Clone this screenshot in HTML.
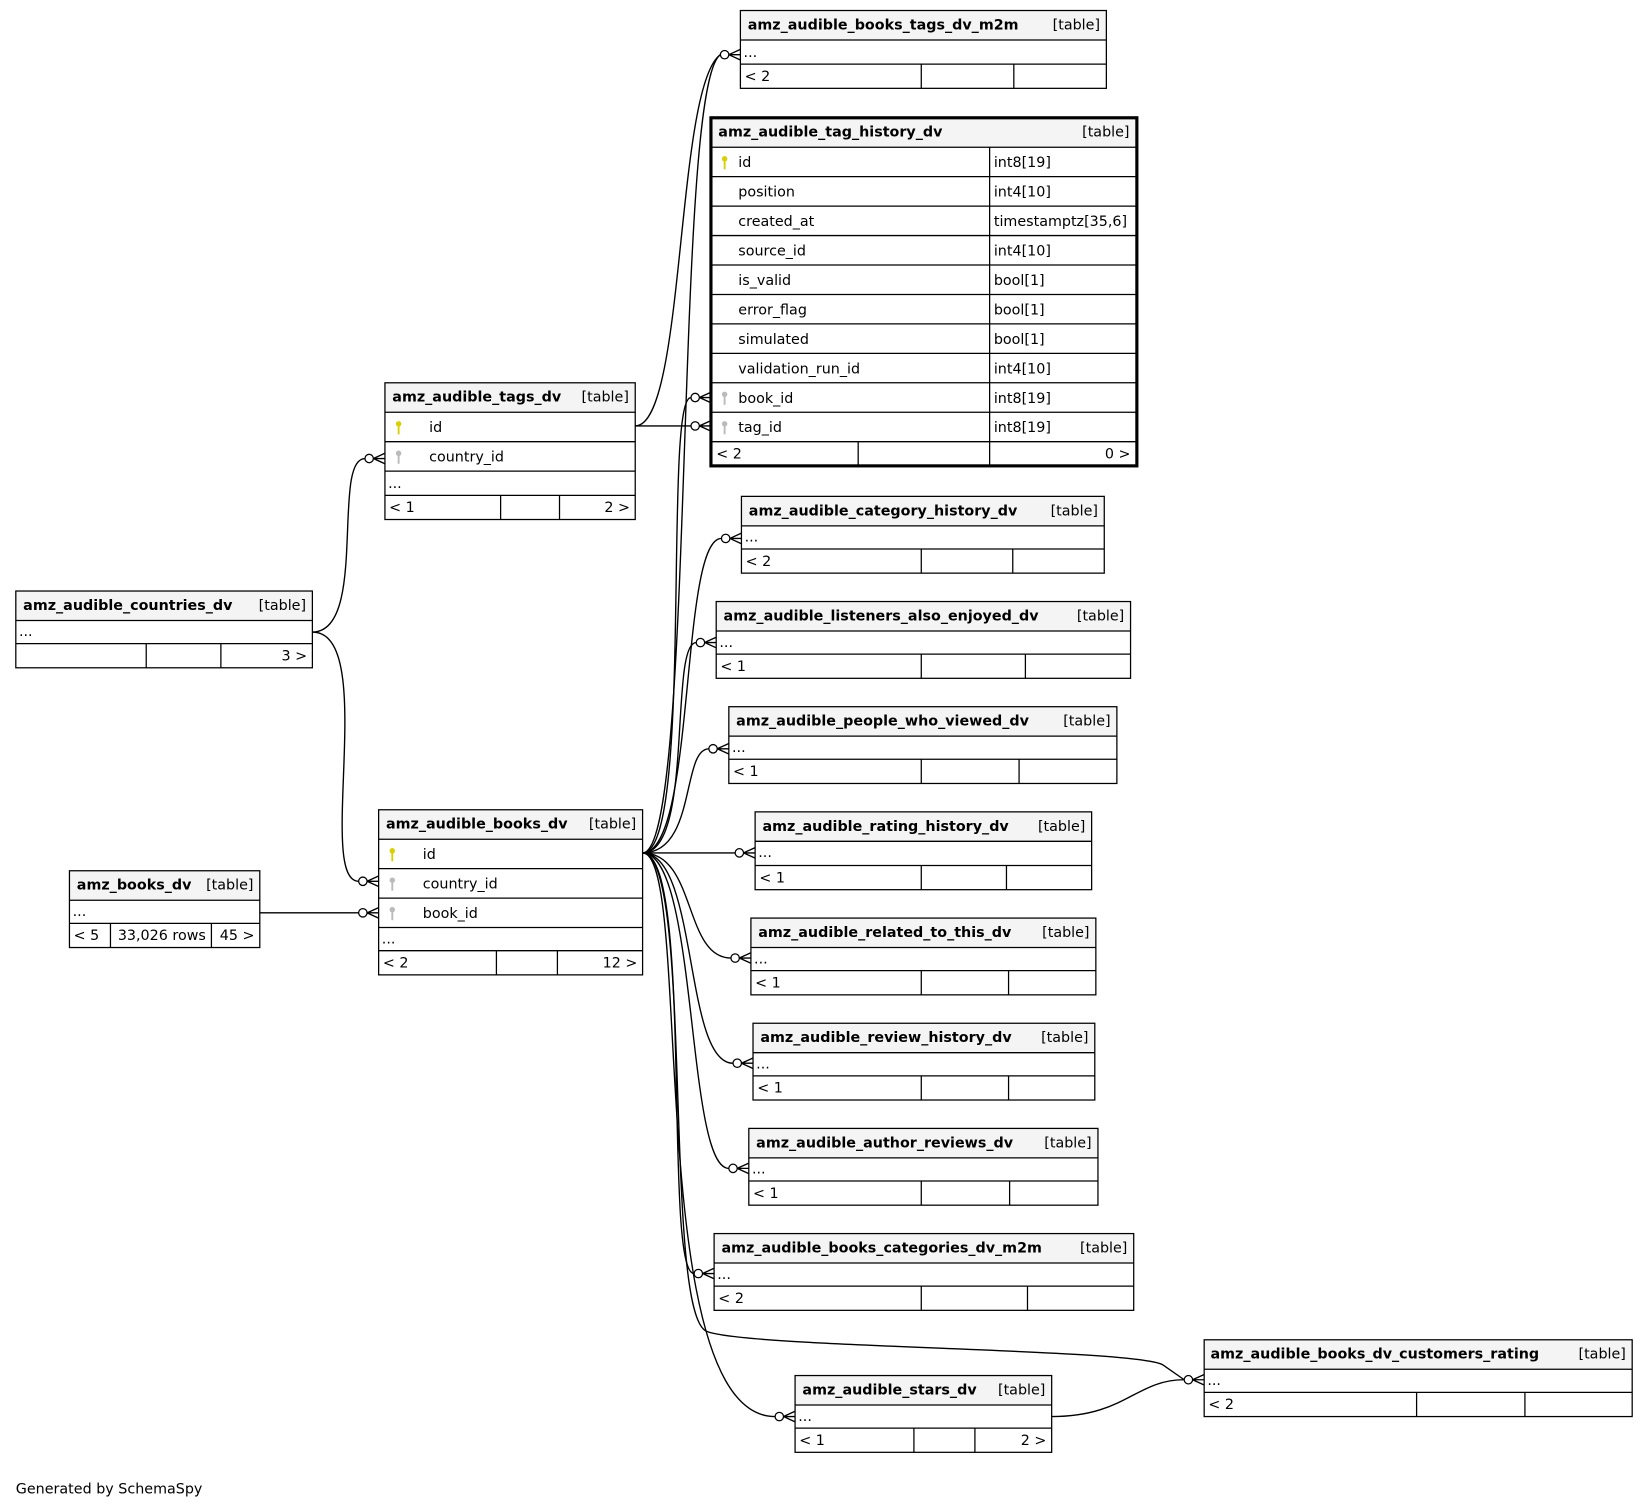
<!DOCTYPE html>
<html><head><meta charset="utf-8"><style>
html,body{margin:0;padding:0;background:#fff;}
svg{display:block}
text{font-family:"DejaVu Sans","Liberation Sans",sans-serif;font-size:13.6px;fill:#000}
.b{font-weight:bold}
.t{fill:none;stroke:#000;stroke-width:1.2}
.e{fill:none;stroke:#000;stroke-width:1.3}
.c{fill:#fff;stroke:#000;stroke-width:1.2}
</style></head><body>
<svg width="1648" height="1507" viewBox="0 0 1567 1433" xmlns="http://www.w3.org/2000/svg">
<defs>
<g id="crow"><circle class="c" cx="-15" cy="0" r="4"/><path class="e" d="M-11,0 L0,-5 M-11,0 L0,0 M-11,0 L0,5"/></g>
<g id="pk"><circle cx="0" cy="-4" r="2.6" fill="#d8d000"/><rect x="-0.9" y="-3" width="1.8" height="9" fill="#d8d000"/></g>
<g id="fk"><circle cx="0" cy="-4" r="2.6" fill="#bbb"/><rect x="-0.9" y="-3" width="1.8" height="9" fill="#bbb"/></g>
</defs>

<g class="e">
<path d="M611,811 C662,811 640,82 685,52"/>
<path d="M604,405 C652,405 642,82 685,52"/>
<path d="M611,811 C660,811 630,378 657,378"/>
<path d="M604,405 L657,405"/>
<path d="M611,811 C662,811 646,512 686,512"/>
<path d="M611,811 C660,811 636,611 662,611"/>
<path d="M611,811 C662,811 648,712 674,712"/>
<path d="M611,811 L699,811"/>
<path d="M611,811 C662,811 650,911 695,911"/>
<path d="M611,811 C664,811 650,1011 697,1011"/>
<path d="M611,811 C664,811 652,1111 693,1111"/>
<path d="M611,811 C660,811 630,1211 660,1211"/>
<path d="M611,811 C660,811 610,1347 737,1347"/>
<path d="M611,811 C660,811 630,1250 672,1266 C712,1282 1080,1282 1106,1298 L1126,1312"/>
<path d="M1000,1347 C1070,1347 1080,1312 1126,1312"/>
<path d="M297,601 C350,601 315,436 347,436"/>
<path d="M297,601 C360,601 300,838 341,838"/>
<path d="M247,868 L341,868"/>
</g>
<use href="#crow" x="704" y="52"/>
<use href="#crow" x="676" y="378"/>
<use href="#crow" x="676" y="405"/>
<use href="#crow" x="705" y="512"/>
<use href="#crow" x="681" y="611"/>
<use href="#crow" x="693" y="712"/>
<use href="#crow" x="718" y="811"/>
<use href="#crow" x="714" y="911"/>
<use href="#crow" x="716" y="1011"/>
<use href="#crow" x="712" y="1111"/>
<use href="#crow" x="679" y="1211"/>
<use href="#crow" x="756" y="1347"/>
<use href="#crow" x="1145" y="1312"/>
<use href="#crow" x="366" y="436"/>
<use href="#crow" x="360" y="838"/>
<use href="#crow" x="360" y="868"/>

<rect x="704" y="10" width="348" height="28" fill="#f4f4f4"/>
<rect class="t" x="704" y="10" width="348" height="74"/>
<path class="t" d="M704,38H1052M704,61H1052M876,61V84M964,61V84"/>
<text class="b" x="711" y="28">amz_audible_books_tags_dv_m2m</text><text x="1046" y="28" text-anchor="end">[table]</text>
<text x="707" y="54">...</text><text x="708" y="77">&lt; 2</text>

<rect x="676" y="112" width="405" height="28" fill="#f4f4f4"/>
<path class="t" d="M676,140H1081M676,168H1081M676,196H1081M676,224H1081M676,252H1081M676,280H1081M676,308H1081M676,336H1081M676,364H1081M676,392H1081M676,420H1081M941,140V420M816,420V443M941,420V443"/>
<rect x="676" y="112" width="405" height="331" fill="none" stroke="#000" stroke-width="3"/>
<text class="b" x="683" y="130">amz_audible_tag_history_dv</text><text x="1074" y="130" text-anchor="end">[table]</text>
<use href="#pk" x="689" y="155"/>
<use href="#fk" x="689" y="379"/>
<use href="#fk" x="689" y="407"/>
<text x="702" y="159">id</text><text x="945" y="159">int8[19]</text>
<text x="702" y="187">position</text><text x="945" y="187">int4[10]</text>
<text x="702" y="215">created_at</text><text x="945" y="215">timestamptz[35,6]</text>
<text x="702" y="243">source_id</text><text x="945" y="243">int4[10]</text>
<text x="702" y="271">is_valid</text><text x="945" y="271">bool[1]</text>
<text x="702" y="299">error_flag</text><text x="945" y="299">bool[1]</text>
<text x="702" y="327">simulated</text><text x="945" y="327">bool[1]</text>
<text x="702" y="355">validation_run_id</text><text x="945" y="355">int4[10]</text>
<text x="702" y="383">book_id</text><text x="945" y="383">int8[19]</text>
<text x="702" y="411">tag_id</text><text x="945" y="411">int8[19]</text>
<text x="681" y="436">&lt; 2</text><text x="1075" y="436" text-anchor="end">0 &gt;</text>

<rect x="366" y="364" width="238" height="28" fill="#f4f4f4"/>
<rect class="t" x="366" y="364" width="238" height="130"/>
<path class="t" d="M366,392H604M366,420H604M366,448H604M366,471H604M476,471V494M532,471V494"/>
<text class="b" x="373" y="382">amz_audible_tags_dv</text><text x="598" y="382" text-anchor="end">[table]</text>
<use href="#pk" x="379" y="407"/><use href="#fk" x="379" y="435"/>
<text x="408" y="411">id</text><text x="408" y="439">country_id</text>
<text x="369" y="464">...</text><text x="370" y="487">&lt; 1</text><text x="599" y="487" text-anchor="end">2 &gt;</text>

<g>
<rect x="705" y="472" width="345" height="28" fill="#f4f4f4"/>
<rect class="t" x="705" y="472" width="345" height="73"/>
<path class="t" d="M705,500H1050M705,522H1050M876,522V545M963,522V545"/>
<text class="b" x="712" y="490">amz_audible_category_history_dv</text><text x="1044" y="490" text-anchor="end">[table]</text>
<text x="708" y="515">...</text><text x="709" y="538">&lt; 2</text>
</g>
<g>
<rect x="681" y="572" width="394" height="28" fill="#f4f4f4"/>
<rect class="t" x="681" y="572" width="394" height="73"/>
<path class="t" d="M681,600H1075M681,622H1075M876,622V645M975,622V645"/>
<text class="b" x="688" y="590">amz_audible_listeners_also_enjoyed_dv</text><text x="1069" y="590" text-anchor="end">[table]</text>
<text x="684" y="615">...</text><text x="685" y="638">&lt; 1</text>
</g>
<g>
<rect x="693" y="672" width="369" height="28" fill="#f4f4f4"/>
<rect class="t" x="693" y="672" width="369" height="73"/>
<path class="t" d="M693,700H1062M693,722H1062M876,722V745M969,722V745"/>
<text class="b" x="700" y="690">amz_audible_people_who_viewed_dv</text><text x="1056" y="690" text-anchor="end">[table]</text>
<text x="696" y="715">...</text><text x="697" y="738">&lt; 1</text>
</g>
<g>
<rect x="718" y="772" width="320" height="28" fill="#f4f4f4"/>
<rect class="t" x="718" y="772" width="320" height="74"/>
<path class="t" d="M718,800H1038M718,823H1038M876,823V846M957,823V846"/>
<text class="b" x="725" y="790">amz_audible_rating_history_dv</text><text x="1032" y="790" text-anchor="end">[table]</text>
<text x="721" y="815">...</text><text x="722" y="839">&lt; 1</text>
</g>
<g>
<rect x="714" y="873" width="328" height="28" fill="#f4f4f4"/>
<rect class="t" x="714" y="873" width="328" height="73"/>
<path class="t" d="M714,901H1042M714,923H1042M876,923V946M959,923V946"/>
<text class="b" x="721" y="891">amz_audible_related_to_this_dv</text><text x="1036" y="891" text-anchor="end">[table]</text>
<text x="717" y="916">...</text><text x="718" y="939">&lt; 1</text>
</g>
<g>
<rect x="716" y="973" width="325" height="28" fill="#f4f4f4"/>
<rect class="t" x="716" y="973" width="325" height="73"/>
<path class="t" d="M716,1001H1041M716,1023H1041M876,1023V1046M959,1023V1046"/>
<text class="b" x="723" y="991">amz_audible_review_history_dv</text><text x="1035" y="991" text-anchor="end">[table]</text>
<text x="719" y="1016">...</text><text x="720" y="1039">&lt; 1</text>
</g>
<g>
<rect x="712" y="1073" width="332" height="28" fill="#f4f4f4"/>
<rect class="t" x="712" y="1073" width="332" height="73"/>
<path class="t" d="M712,1101H1044M712,1123H1044M876,1123V1146M960,1123V1146"/>
<text class="b" x="719" y="1091">amz_audible_author_reviews_dv</text><text x="1038" y="1091" text-anchor="end">[table]</text>
<text x="715" y="1116">...</text><text x="716" y="1139">&lt; 1</text>
</g>
<g>
<rect x="679" y="1173" width="399" height="28" fill="#f4f4f4"/>
<rect class="t" x="679" y="1173" width="399" height="73"/>
<path class="t" d="M679,1201H1078M679,1223H1078M876,1223V1246M977,1223V1246"/>
<text class="b" x="686" y="1191">amz_audible_books_categories_dv_m2m</text><text x="1072" y="1191" text-anchor="end">[table]</text>
<text x="682" y="1216">...</text><text x="683" y="1239">&lt; 2</text>
</g>
<g>
<rect x="1145" y="1274" width="407" height="28" fill="#f4f4f4"/>
<rect class="t" x="1145" y="1274" width="407" height="73"/>
<path class="t" d="M1145,1302H1552M1145,1324H1552M1347,1324V1347M1450,1324V1347"/>
<text class="b" x="1151" y="1292">amz_audible_books_dv_customers_rating</text><text x="1546" y="1292" text-anchor="end">[table]</text>
<text x="1148" y="1317">...</text><text x="1149" y="1340">&lt; 2</text>
</g>
<g>
<rect x="756" y="1308" width="244" height="28" fill="#f4f4f4"/>
<rect class="t" x="756" y="1308" width="244" height="73"/>
<path class="t" d="M756,1336H1000M756,1358H1000M869,1358V1381M927,1358V1381"/>
<text class="b" x="763" y="1326">amz_audible_stars_dv</text><text x="994" y="1326" text-anchor="end">[table]</text>
<text x="759" y="1351">...</text><text x="760" y="1374">&lt; 1</text><text x="995" y="1374" text-anchor="end">2 &gt;</text>
</g>
<g>
<rect x="15" y="562" width="282" height="28" fill="#f4f4f4"/>
<rect class="t" x="15" y="562" width="282" height="73"/>
<path class="t" d="M15,590H297M15,612H297M139,612V635M210,612V635"/>
<text class="b" x="22" y="580">amz_audible_countries_dv</text><text x="291" y="580" text-anchor="end">[table]</text>
<text x="18" y="605">...</text><text x="292" y="628" text-anchor="end">3 &gt;</text>
</g>
<g>
<rect x="360" y="770" width="251" height="28" fill="#f4f4f4"/>
<rect class="t" x="360" y="770" width="251" height="157"/>
<path class="t" d="M360,798H611M360,826H611M360,854H611M360,882H611M360,904H611M472,904V927M530,904V927"/>
<text class="b" x="367" y="788">amz_audible_books_dv</text><text x="605" y="788" text-anchor="end">[table]</text>
<use href="#pk" x="373" y="813"/><use href="#fk" x="373" y="841"/><use href="#fk" x="373" y="869"/>
<text x="402" y="817">id</text><text x="402" y="845">country_id</text><text x="402" y="873">book_id</text>
<text x="363" y="897">...</text><text x="364" y="920">&lt; 2</text><text x="606" y="920" text-anchor="end">12 &gt;</text>
</g>
<g>
<rect x="66" y="828" width="181" height="28" fill="#f4f4f4"/>
<rect class="t" x="66" y="828" width="181" height="73"/>
<path class="t" d="M66,856H247M66,878H247M105,878V901M201,878V901"/>
<text class="b" x="73" y="846">amz_books_dv</text><text x="241" y="846" text-anchor="end">[table]</text>
<text x="69" y="871">...</text><text x="70" y="894">&lt; 5</text><text x="112" y="894">33,026 rows</text><text x="242" y="894" text-anchor="end">45 &gt;</text>
</g>
<text x="15" y="1420">Generated by SchemaSpy</text>
</svg>
</body></html>
